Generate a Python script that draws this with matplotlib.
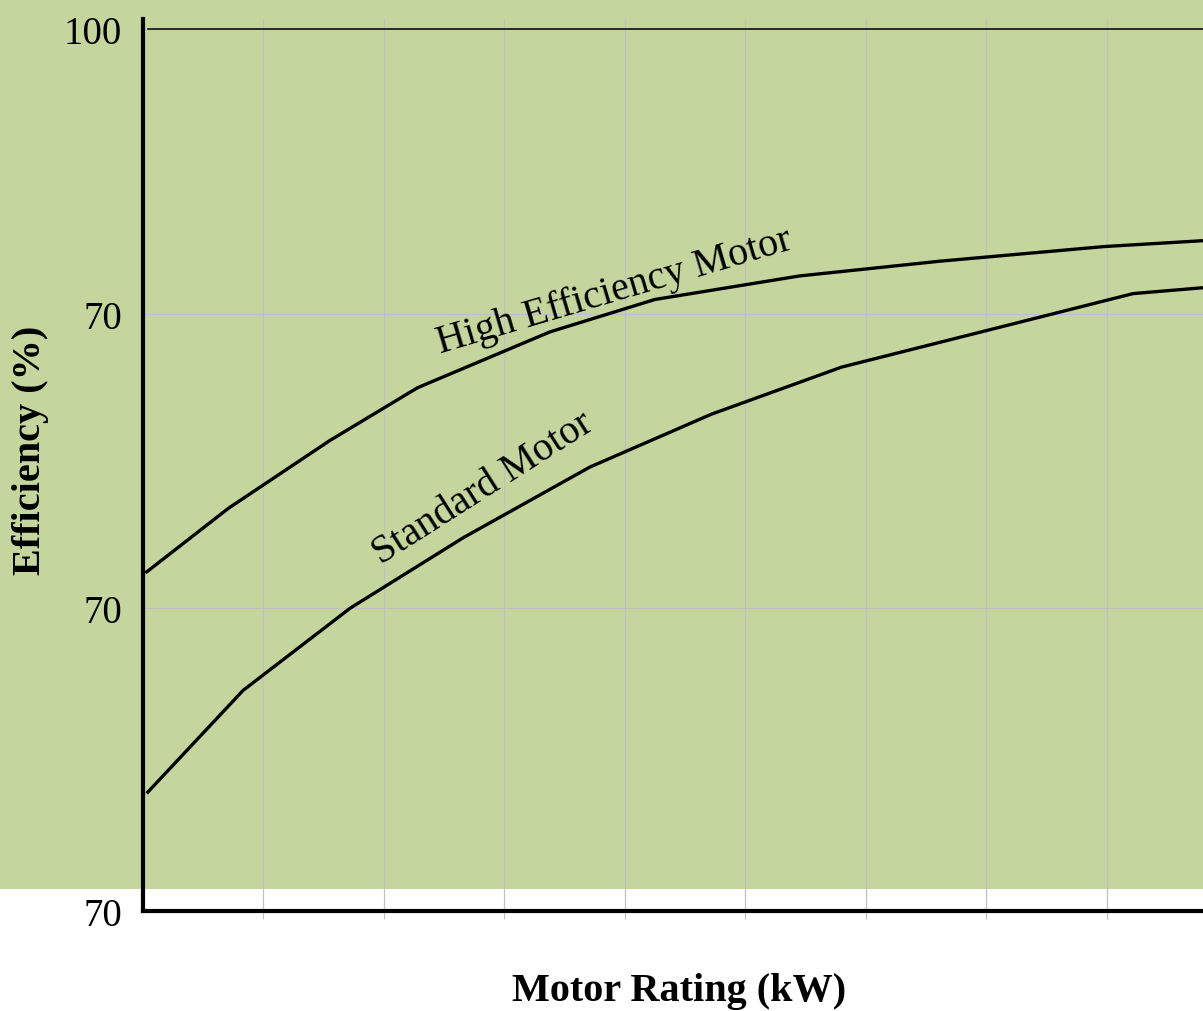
import numpy as np
import matplotlib.pyplot as plt
from matplotlib.patches import Rectangle

plt.rcParams['font.family'] = ['Liberation Serif', 'DejaVu Serif']

# motor rating (arbitrary axis units, no tick labels) and efficiency (%)
x_high = [0.02, 0.71, 1.55, 2.28, 3.38, 4.25, 5.45, 6.61, 7.98, 8.80]
eff_high = [81.5, 83.7, 86.0, 87.8, 89.7, 90.8, 91.6, 92.1, 92.6, 92.8]

x_std = [0.03, 0.83, 1.72, 2.66, 3.71, 4.72, 5.80, 8.22, 8.80]
eff_std = [74.0, 77.5, 80.3, 82.7, 85.1, 86.9, 88.5, 91.0, 91.2]

grid_x = [1, 2, 3, 4, 5, 6, 7, 8]
ytick_pos = [70, 80.3, 90.3, 100]
ytick_labels = ['70', '70', '70', '100']

fig = plt.figure(figsize=(12.03, 10.12), dpi=100)
fig.patches.append(Rectangle((0, 122 / 1012), 1, 890 / 1012, transform=fig.transFigure,
                             facecolor='#c4d69e', edgecolor='none', zorder=-10))

ax = fig.add_axes([143 / 1203, 100 / 1012, 1060 / 1203, 892 / 1012])
ax.patch.set_alpha(0)

ax.plot(x_high, eff_high, color='black', linewidth=2.4, solid_capstyle='butt')
ax.plot(x_std, eff_std, color='black', linewidth=2.4, solid_capstyle='butt')

ax.set_xlim(0, 8.8)
ax.set_ylim(70, 100.34)

ax.set_xticks(grid_x)
ax.set_xticklabels([])
ax.set_yticks(ytick_pos)
ax.set_yticklabels(ytick_labels, fontsize=28)
ax.tick_params(axis='y', length=0, pad=15)
ax.tick_params(axis='x', length=6, width=0.8, color='#c0c0c0')
ax.grid(True, color='#c0c0c0', linewidth=0.9)
ax.axhline(100, xmin=5 / 1060, color='black', linewidth=1.1)

for side in ['top', 'right']:
    ax.spines[side].set_visible(False)
ax.spines['left'].set_linewidth(3)
ax.spines['bottom'].set_linewidth(3)

ax.text(3.91, 91.1, 'High Efficiency Motor', fontsize=29, rotation=16.5,
        rotation_mode='anchor', ha='center', va='center')
ax.text(2.82, 84.4, 'Standard Motor', fontsize=29, rotation=32.5,
        rotation_mode='anchor', ha='center', va='center')

fig.text(31 / 1203, 1 - 450 / 1012, 'Efficiency (%)', fontsize=29, fontweight='bold',
         rotation=90, ha='center', va='center')
fig.text(679 / 1203, 1 - 992 / 1012, 'Motor Rating (kW)', fontsize=29, fontweight='bold',
         ha='center', va='center')

fig.savefig('out.png', dpi=100)
